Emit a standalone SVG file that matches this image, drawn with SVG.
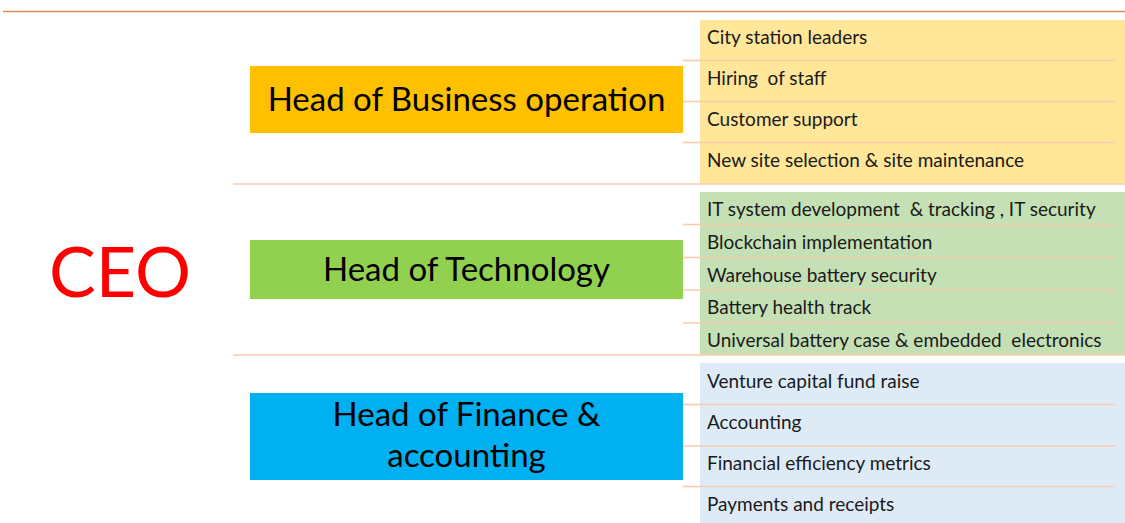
<svg xmlns="http://www.w3.org/2000/svg" width="1125" height="523" viewBox="0 0 1125 523">
<style>
.head{font-family:Lato,"Open Sans",sans-serif;font-size:33px;fill:#000;text-anchor:middle}
.item{font-family:Lato,"Open Sans",sans-serif;font-size:19px;fill:#1a1a1a;white-space:pre}
.sep{stroke:#f8cbad;stroke-width:1.5;fill:none}
</style>
<rect width="1125" height="523" fill="#ffffff"/>
<line x1="3" y1="11.5" x2="1125" y2="11.5" stroke="#e08a5a" stroke-width="1.5"/>
<rect x="700" y="20" width="425" height="164" fill="#ffe699"/>
<rect x="700" y="192" width="425" height="163" fill="#c5e0b4"/>
<rect x="700" y="363" width="425" height="160" fill="#deebf7"/>
<g id="connectors">
<line class="sep" x1="683" y1="60.5" x2="1115" y2="60.5"/>
<line class="sep" x1="683" y1="101.5" x2="1115" y2="101.5"/>
<line class="sep" x1="683" y1="142.5" x2="1115" y2="142.5"/>
<line class="sep" x1="233" y1="184" x2="1125" y2="184"/>
<line class="sep" x1="683" y1="224.5" x2="1115" y2="224.5"/>
<line class="sep" x1="683" y1="257.5" x2="1115" y2="257.5"/>
<line class="sep" x1="683" y1="290" x2="1115" y2="290"/>
<line class="sep" x1="683" y1="323" x2="1115" y2="323"/>
<line class="sep" x1="233" y1="355" x2="1125" y2="355"/>
<line class="sep" x1="683" y1="404.5" x2="1115" y2="404.5"/>
<line class="sep" x1="683" y1="446" x2="1115" y2="446"/>
<line class="sep" x1="683" y1="486.5" x2="1115" y2="486.5"/>
</g>
<g id="ceo"><text x="120" y="297" font-family="Lato,'Open Sans',sans-serif" font-size="70" fill="#ff0000" text-anchor="middle">CEO</text></g>
<g id="head-business"><rect x="250" y="66" width="433" height="67" fill="#ffc000"/><text class="head" x="466.5" y="111">Head of Business operation</text></g>
<g id="head-technology"><rect x="250" y="240" width="433" height="59" fill="#92d050"/><text class="head" x="466.5" y="281">Head of Technology</text></g>
<g id="head-finance"><rect x="250" y="393" width="433" height="87" fill="#00b0f0"/><text class="head" x="466.5" y="426">Head of Finance &amp;</text><text class="head" x="466.5" y="467">accounting</text></g>
<g id="business-items">
<text class="item" x="707" y="44">City station leaders</text>
<text class="item" x="707" y="85">Hiring  of staff</text>
<text class="item" x="707" y="126">Customer support</text>
<text class="item" x="707" y="167">New site selection &amp; site maintenance</text>
</g>
<g id="tech-items">
<text class="item" x="707" y="216">IT system development  &amp; tracking , IT security</text>
<text class="item" x="707" y="249">Blockchain implementation</text>
<text class="item" x="707" y="282">Warehouse battery security</text>
<text class="item" x="707" y="314">Battery health track</text>
<text class="item" x="707" y="347">Universal battery case &amp; embedded  electronics</text>
</g>
<g id="finance-items">
<text class="item" x="707" y="388">Venture capital fund raise</text>
<text class="item" x="707" y="429">Accounting</text>
<text class="item" x="707" y="470">Financial efficiency metrics</text>
<text class="item" x="707" y="511">Payments and receipts</text>
</g>
</svg>
